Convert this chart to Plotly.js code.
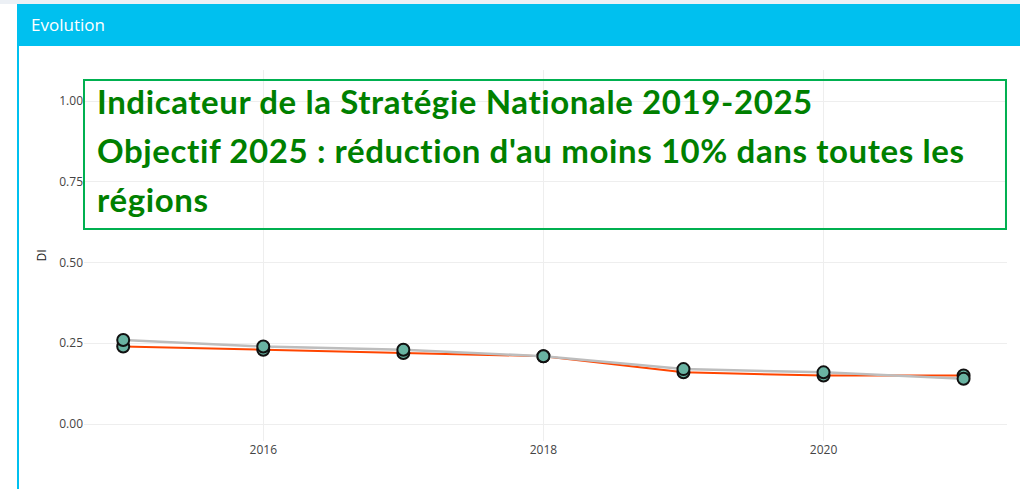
<!DOCTYPE html>
<html>
<head>
<meta charset="utf-8">
<script src="https://cdn.plot.ly/plotly-3.0.1.min.js"></script>
<style>
  html, body { margin:0; padding:0; width:1020px; height:489px; overflow:hidden; background:#ffffff; }
  #topstrip { position:absolute; left:0; top:0; width:1020px; height:4px; background:#ecf0f5; }
  #panel { position:absolute; left:17px; top:4px; width:1003px; height:485px; border-left:2px solid #00c0ef; background:#fff; }
  #header { position:absolute; left:0; top:0; width:1003px; height:42px; background:#00c0ef; color:#fff;
            font-family:"Open Sans", sans-serif; font-size:17px; line-height:42px; padding-left:12px; box-sizing:border-box; }
  #chart { position:absolute; left:0; top:43px; width:1001px; height:442px; }
  #chart .annotation-text { letter-spacing: 0.6px; }
</style>
</head>
<body>
<div id="topstrip"></div>
<div id="panel">
  <div id="header">Evolution</div>
  <div id="chart"></div>
</div>
<script>
const years = [2015, 2016, 2017, 2018, 2019, 2020, 2021];
const regionValues = [0.24, 0.23, 0.22, 0.21, 0.16, 0.15, 0.15];
const nationalValues = [0.26, 0.24, 0.23, 0.21, 0.17, 0.16, 0.14];
const noteLines = [
  "Indicateur de la Stratégie Nationale 2019-2025",
  "Objectif 2025 : réduction d'au moins 10% dans toutes les",
  "régions"
];
const yTickVals = [0, 0.25, 0.5, 0.75, 1];
const yTickText = ["0.00", "0.25", "0.50", "0.75", "1.00"];

const markerStyle = { color: "#69b3a2", size: 12, line: { color: "#111111", width: 2 } };

const traces = [
  { x: years, y: regionValues, type: "scatter", mode: "lines+markers",
    line: { color: "#ff4500", width: 2 }, marker: markerStyle, showlegend: false },
  { x: years, y: nationalValues, type: "scatter", mode: "lines+markers",
    line: { color: "#bdbdbd", width: 2.5 }, marker: markerStyle, showlegend: false }
];

const firstLine = 0.9164, lineGap = 0.1321;
const annotations = noteLines.map((t, i) => ({
  xref: "paper", yref: "paper", x: 0.012, y: firstLine - i * lineGap,
  xanchor: "left", yanchor: "middle", showarrow: false, align: "left",
  text: "<b>" + t + "</b>",
  font: { family: "Lato, 'Open Sans', sans-serif", size: 33, color: "#008000" }
}));

const layout = {
  width: 1001, height: 442,
  margin: { l: 65, r: 13, t: 23, b: 48 },
  paper_bgcolor: "#ffffff", plot_bgcolor: "#ffffff",
  font: { family: "'Open Sans', verdana, arial, sans-serif", size: 12, color: "#444" },
  xaxis: { range: [2014.72, 2021.31], tickvals: [2016, 2018, 2020], showgrid: true,
           gridcolor: "#eeeeee", zeroline: false, showline: false, ticks: "" },
  yaxis: { range: [-0.0526, 1.096], tickvals: yTickVals, ticktext: yTickText, showgrid: true,
           gridcolor: "#eeeeee", zeroline: false, showline: false,
           title: { text: "DI", font: { size: 12, color: "#222" }, standoff: 10 } },
  shapes: [{ type: "rect", xref: "paper", yref: "paper", x0: 0, x1: 0.9989, y0: 0.5714, y1: 0.973,
             line: { color: "#00b050", width: 2 }, fillcolor: "rgba(0,0,0,0)" }],
  annotations: annotations
};

Plotly.newPlot("chart", traces, layout, { displayModeBar: false, staticPlot: true });
</script>
</body>
</html>
